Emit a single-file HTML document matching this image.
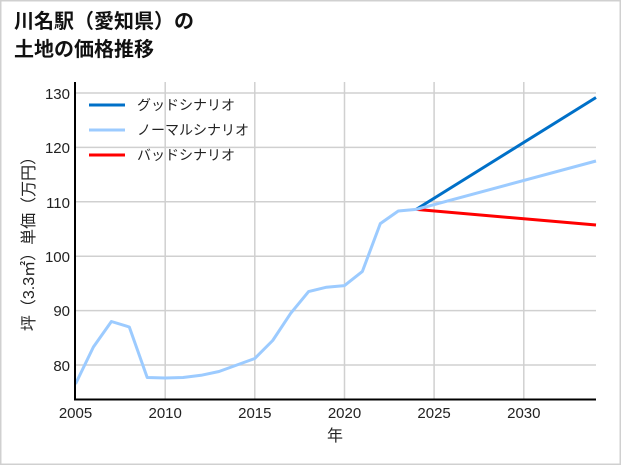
<!DOCTYPE html>
<html><head><meta charset="utf-8"><style>
html,body{margin:0;padding:0;background:#fff}
body{width:621px;height:465px;overflow:hidden}
svg{display:block;font-family:"Liberation Sans","Noto Sans CJK JP",sans-serif}
</style></head><body>
<svg width="621" height="465" viewBox="0 0 621 465">
<rect x="0.5" y="0.5" width="620" height="464" fill="#fff" stroke="#d0d0d0" stroke-width="2"/>
<text x="14" y="28" font-size="20" font-weight="bold" fill="#111">川名駅（愛知県）の</text>
<text x="14" y="56" font-size="20" font-weight="bold" fill="#111">土地の価格推移</text>
<g stroke="#d0d0d0" stroke-width="1.5">
<line x1="165.2" y1="82" x2="165.2" y2="399"/>
<line x1="254.8" y1="82" x2="254.8" y2="399"/>
<line x1="344.5" y1="82" x2="344.5" y2="399"/>
<line x1="434.1" y1="82" x2="434.1" y2="399"/>
<line x1="523.8" y1="82" x2="523.8" y2="399"/>
<line x1="75" y1="93" x2="596" y2="93"/>
<line x1="75" y1="147.4" x2="596" y2="147.4"/>
<line x1="75" y1="201.8" x2="596" y2="201.8"/>
<line x1="75" y1="256.2" x2="596" y2="256.2"/>
<line x1="75" y1="310.6" x2="596" y2="310.6"/>
<line x1="75" y1="365" x2="596" y2="365"/>
</g>
<g font-size="15" fill="#222" text-anchor="end">
<text x="70" y="99">130</text><text x="70" y="153">120</text><text x="70" y="208">110</text>
<text x="70" y="262">100</text><text x="70" y="316">90</text><text x="70" y="371">80</text>
</g>
<g font-size="15" fill="#222" text-anchor="middle">
<text x="75.5" y="418">2005</text><text x="165.2" y="418">2010</text><text x="254.8" y="418">2015</text>
<text x="344.5" y="418">2020</text><text x="434.1" y="418">2025</text><text x="523.8" y="418">2030</text>
<text x="335" y="441" font-size="16">年</text>
</g>
<text transform="translate(34,240) rotate(-90)" font-size="16" fill="#222" text-anchor="middle">坪（3.3㎡）単価（万円）</text>
<g fill="none" stroke-width="3" stroke-linejoin="round">
<polyline stroke="#0070c8" points="416.2,209.4 596,97.5"/>
<polyline stroke="#ff0000" points="416.2,209.4 596,225"/>
<polyline stroke="#9ccbff" points="75.5,384 93.4,347 111.4,321.5 129.3,327 147.2,377.5 165.2,378 183.1,377.5 201,375.3 219,371.5 236.9,365 254.8,358.5 272.7,340.5 290.7,313.3 308.6,291.6 326.5,287.2 344.5,285.6 362.4,271.4 380.3,223.6 398.3,211 416.2,209.4 596,161"/>
</g>
<path d="M75 82 V399.5 H596" fill="none" stroke="#000" stroke-width="2"/>
<g stroke-width="3">
<line x1="89" y1="105" x2="125" y2="105" stroke="#0070c8"/>
<line x1="89" y1="130" x2="125" y2="130" stroke="#9ccbff"/>
<line x1="89" y1="155" x2="125" y2="155" stroke="#ff0000"/>
</g>
<g font-size="14" fill="#222">
<text x="137" y="110">グッドシナリオ</text>
<text x="137" y="135">ノーマルシナリオ</text>
<text x="137" y="160">バッドシナリオ</text>
</g>
</svg>
</body></html>
